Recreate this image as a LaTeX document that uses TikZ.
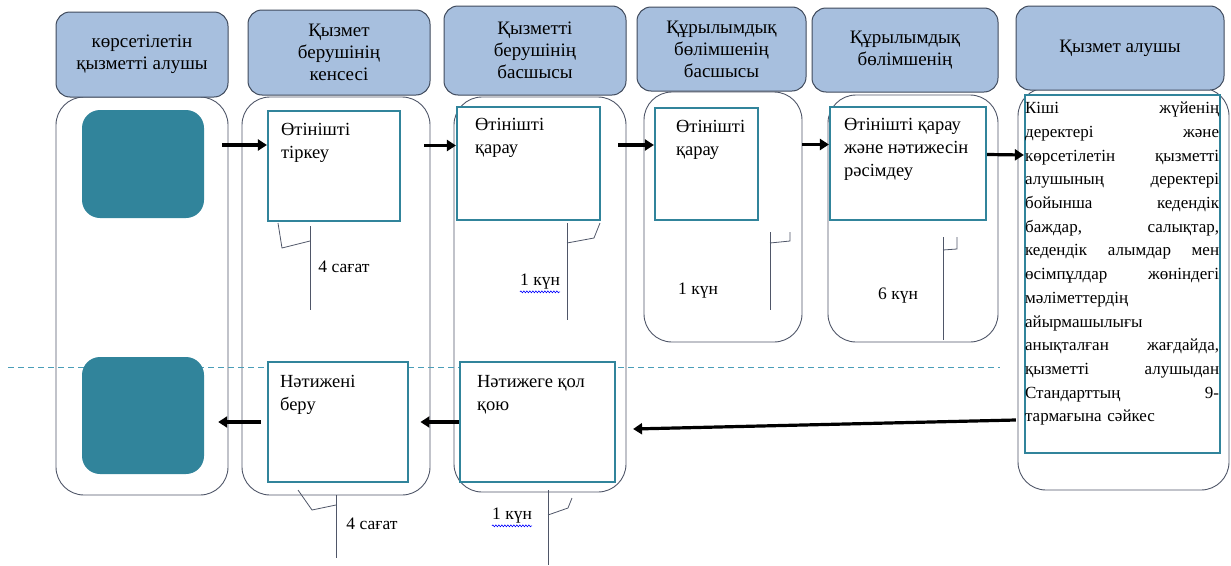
\documentclass[tikz,border=0pt]{standalone}
\usepackage{fontspec}
\setmainfont{Liberation Serif}
\usetikzlibrary{arrows.meta,decorations.pathmorphing}
\definecolor{headfill}{HTML}{A7BFDE}
\definecolor{headline}{HTML}{3F4A5C}
\definecolor{laneline}{HTML}{4F5668}
\definecolor{tealbox}{HTML}{31849B}
\definecolor{dashteal}{HTML}{4A9DB8}
\begin{document}
\begin{tikzpicture}[x=1pt, y=-1pt,
    head/.style={draw=headline, fill=headfill, rounded corners=14pt, line width=1pt,
      align=center, font=\fontsize{19}{22}\selectfont, inner sep=0pt},
    lane/.style={draw=laneline, rounded corners=28pt, line width=0.9pt, inner sep=0pt},
    stepbox/.style={draw=tealbox, line width=2.2pt, fill=white, inner sep=0pt},
    endbox/.style={fill=tealbox, rounded corners=18pt, inner sep=0pt},
    boxtext/.style={anchor=north west, align=left, font=\fontsize{18.5}{23}\selectfont, inner sep=0pt},
    timetext/.style={font=\fontsize{17.5}{19}\selectfont, inner sep=0pt},
    flow/.style={-{Triangle[length=9pt,width=11pt]}, line width=3.2pt, black},
    brace/.style={draw=laneline, line width=0.8pt}
  ]
  \useasboundingbox (0,0) rectangle (1231,565);

  % Swimlanes, one per participant
  \foreach \name/\cx/\cy/\w/\h in {
    l1/142/296/172/398,
    l2/336/296/188/398,
    l3/540/294.5/172/395,
    l4/723/217/158/250,
    l5/913/218.5/170/247,
    l6/1123.5/289/211/402} {
    \node [lane, minimum width=\w pt, minimum height=\h pt] (\name) at (\cx,\cy) {};
  }

  % Lane headers
  \foreach \name/\cx/\cy/\w/\h/\txt in {
    h1/142/54.5/172/85/{көрсетілетін\\қызметті алушы},
    h2/339/52.5/182/85/{Қызмет\\берушінің\\кенсесі},
    h3/535/50.5/182/89/{Қызметті\\берушінің\\басшысы},
    h4/721.5/49/169/84/{Құрылымдық\\бөлімшенің\\басшысы},
    h5/905/50/186/84/{Құрылымдық\\бөлімшенің},
    h6/1120/48/208/84/{Қызмет алушы}} {
    \node [head, minimum width=\w pt, minimum height=\h pt] (\name) at (\cx,\cy) {\txt};
  }

  % Border between the request row and the result row
  \draw [dashteal, line width=0.9pt, dash pattern=on 6pt off 4pt] (8,367) -- (1000,367);

  % Start and end of the process
  \node [endbox, minimum width=122pt, minimum height=108pt] (start) at (143,164) {};
  \node [endbox, minimum width=122pt, minimum height=117pt] (finish) at (143,415.5) {};

  % Process steps
  \node [stepbox, minimum width=132pt, minimum height=110pt] (tirk) at (334,166) {};
  \node [stepbox, minimum width=143pt, minimum height=113pt] (qar3) at (528.5,163.5) {};
  \node [stepbox, minimum width=103pt, minimum height=112pt] (qar4) at (706.5,164) {};
  \node [stepbox, minimum width=156pt, minimum height=113pt] (res5) at (908,163.5) {};
  \node [stepbox, minimum width=195pt, minimum height=358pt] (txt6) at (1122.5,274) {};
  \node [stepbox, minimum width=140pt, minimum height=120pt] (ber) at (338,422) {};
  \node [stepbox, minimum width=155pt, minimum height=120pt] (qol) at (537.5,422) {};

  \node [boxtext] (tirkt) at ([shift={(14pt,-13pt)}]tirk.north west) {Өтінішті\\тіркеу};
  \node [boxtext] (qar3t) at ([shift={(19pt,-12pt)}]qar3.north west) {Өтінішті\\қарау};
  \node [boxtext] (qar4t) at ([shift={(22pt,-13pt)}]qar4.north west) {Өтінішті\\қарау};
  \node [boxtext] (res5t) at ([shift={(15pt,-12pt)}]res5.north west) {Өтінішті қарау\\және нәтижесін\\рәсімдеу};
  \node [boxtext] (bert) at ([shift={(13pt,-14pt)}]ber.north west) {Нәтижені\\беру};
  \node [boxtext] (qolt) at ([shift={(18pt,-14pt)}]qol.north west) {Нәтижеге қол\\қою};
  \node [anchor=north west, text width=194pt, align=left, inner sep=0pt,
    font=\fontsize{17}{23.7}\selectfont] (txt6t) at ([shift={(1pt,-8pt)}]txt6.north west)
    {Кіші\hfill жүйенің\\
     деректері\hfill және\\
     көрсетілетін\hfill қызметті\\
     алушының\hfill деректері\\
     бойынша\hfill кедендік\\
     баждар,\hfill салықтар,\\
     кедендік\hfill алымдар\hfill мен\\
     өсімпұлдар\hfill жөніндегі\\
     мәліметтердің\\
     айырмашылығы\\
     анықталған\hfill жағдайда,\\
     қызметті\hfill алушыдан\\
     Стандарттың\hfill 9-\\
     тармағына сәйкес};

  % Flow arrows
  \draw [flow] ([shift={(-6pt,21pt)}]tirk.west -| l1.east) -- ([yshift=21pt]tirk.west);
  \draw [flow] ([shift={(-6pt,18pt)}]qar3.west -| l2.east) -- ([yshift=18pt]qar3.west);
  \draw [flow] ([shift={(-8pt,19pt)}]qar4.west -| l3.east) -- ([yshift=19pt]qar4.west);
  \draw [flow] ([yshift=19pt]res5.west -| l4.east) -- ([yshift=19pt]res5.west);
  \draw [flow] ([yshift=9pt]res5.east) -- ([yshift=119pt]txt6.west);
  \draw [flow] ([shift={(-8pt,-146pt)}]txt6.west) -- ([shift={(17pt,-7pt)}]qol.east);
  \draw [flow] (qol.west) -- ([xshift=-10pt]l2.east |- qol.west);
  \draw [flow] ([xshift=-6pt]ber.west) -- ([xshift=14pt]finish.east |- ber.west);

  % Time brackets: corner path, then the stem
  \foreach \ax/\ay/\bx/\by/\cx/\cy/\sx/\st/\sb in {
    278/223/282/248/310/241/310/226/310,
    600/223/594/238/567/243/567/223/320,
    790/232/790/241/770/243/770/232/310,
    957/237/957/249/943/250/943/237/340,
    298/490/312/510/336/505/336/495/558,
    572/498/568/508/548/515/548/490/565} {
    \draw [brace] (\ax,\ay) -- (\bx,\by) -- (\cx,\cy);
    \draw [brace] (\sx,\st) -- (\sx,\sb);
  }

  % Time labels
  \node [timetext] (d1) at (344,267) {4 сағат};
  \node [timetext] (d2) at (540,282) {1 күн};
  \node [timetext] (d3) at (698,291) {1 күн};
  \node [timetext] (d4) at (898,296) {6 күн};
  \node [timetext] (d5) at (372,524) {4 сағат};
  \node [timetext] (d6) at (512,516) {1 күн};
  \foreach \d in {d2, d6} {
    \draw [blue, line width=0.6pt, decorate, decoration={snake, amplitude=0.9pt, segment length=3pt}]
      ([yshift=-2pt]\d.south west) -- ([yshift=-2pt]\d.south east);
  }
\end{tikzpicture}
\end{document}
